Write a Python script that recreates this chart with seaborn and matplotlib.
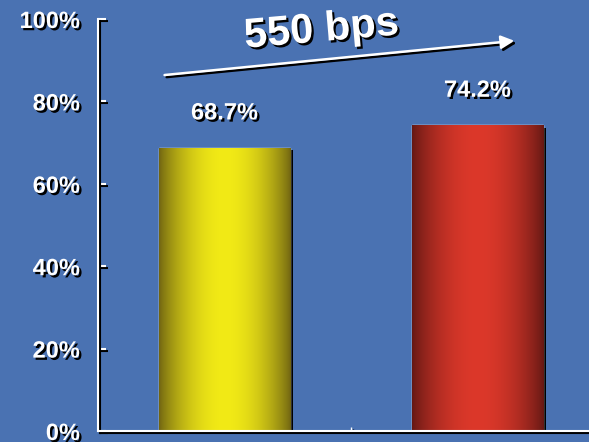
import numpy as np
import pandas as pd
import matplotlib
matplotlib.use("Agg")
import matplotlib.pyplot as plt
import matplotlib.patheffects as pe
import seaborn as sns

# data
categories = ["Before", "After"]
shares = [68.7, 74.2]
value_labels = ["68.7%", "74.2%"]
y_ticks = [0, 20, 40, 60, 80, 100]
y_tick_labels = ["0%", "20%", "40%", "60%", "80%", "100%"]
gain_label = "550 bps"

# colours
bg = "#4A72B2"
bar_dark = [(112, 100, 18), (100, 24, 20)]
bar_bright = [(242, 234, 22), (220, 56, 42)]

sns.set_theme(style="ticks")
plt.rcParams["font.family"] = ["Liberation Sans", "DejaVu Sans"]
plt.rcParams["font.weight"] = "bold"

shadow_txt = [pe.SimplePatchShadow(offset=(1.6, -1.6), shadow_rgbFace="black", alpha=1), pe.Normal()]
shadow_line = [pe.SimpleLineShadow(offset=(1.5, -1.5), shadow_color="black", alpha=1), pe.Normal()]

fig = plt.figure(figsize=(5.89, 4.42), dpi=100, facecolor=bg)
ax = fig.add_axes([98 / 589, 11 / 442, 506 / 589, 412 / 442])
ax.set_facecolor(bg)

df = pd.DataFrame({"cat": categories, "share": shares})
sns.barplot(data=df, x="cat", y="share", hue="cat", legend=False, width=0.52,
            palette=["#f0e614", "#d83828"], saturation=1, ax=ax, zorder=2)

# gradient fill for each bar, clipped to the bar
t = np.linspace(0, 1, 200)
f = np.sin(np.pi * t) ** 0.8
for i, patch in enumerate(ax.patches):
    patch.set_path_effects([pe.SimplePatchShadow(offset=(2.2, -1.6), shadow_rgbFace="black", alpha=1), pe.Normal()])
    dark = np.array(bar_dark[i]) / 255
    bright = np.array(bar_bright[i]) / 255
    grad = dark[None, :] + (bright - dark)[None, :] * f[:, None]
    x0, y0 = patch.get_x(), patch.get_y()
    w, h = patch.get_width(), patch.get_height()
    im = ax.imshow(grad[None, :, :], extent=[x0, x0 + w, y0, y0 + h], aspect="auto",
                   origin="lower", zorder=2.5, interpolation="bilinear")
    im.set_clip_path(patch)
    ax.text(x0 + w / 2, h + 8.5, value_labels[i], ha="center", va="center",
            color="white", fontsize=17, fontweight="bold", path_effects=shadow_txt, zorder=4)

ax.set_xlim(-0.5, 1.5)
ax.set_ylim(0, 100)
ax.set_xlabel("")
ax.set_ylabel("")
ax.set_xticks([])
ax.set_xticks([0.5], minor=True)
ax.set_yticks(y_ticks)
ax.set_yticklabels(y_tick_labels)
ax.tick_params(axis="y", direction="in", length=6, width=1.5, color="white",
               labelcolor="white", labelsize=17, pad=13)
ax.tick_params(axis="x", which="minor", direction="in", length=3, width=1, color="white")
for lab in ax.get_yticklabels():
    lab.set_fontweight("bold")
    lab.set_path_effects(shadow_txt)
for tl in ax.yaxis.get_ticklines() + ax.xaxis.get_ticklines(minor=True):
    tl.set_path_effects(shadow_line)

sns.despine(ax=ax)
for side in ["left", "bottom"]:
    ax.spines[side].set_color("white")
    ax.spines[side].set_linewidth(1.5)
    ax.spines[side].set_path_effects(shadow_line)
    ax.spines[side].set_zorder(3)

# arrow with gain label
ax.annotate("", xy=(1.146, 94.7), xytext=(-0.237, 86.4),
            arrowprops=dict(arrowstyle="-|>", color="white", lw=1.8, mutation_scale=20,
                            shrinkA=0, shrinkB=0,
                            path_effects=[pe.SimpleLineShadow(offset=(1.5, -1.5), shadow_color="black", alpha=1),
                                          pe.SimplePatchShadow(offset=(1.5, -1.5), shadow_rgbFace="black", alpha=1),
                                          pe.Normal()]),
            annotation_clip=False, zorder=5)
ax.text(0.383, 97.3, gain_label, ha="center", va="center", rotation=5, color="white",
        fontsize=30, fontweight="bold", path_effects=shadow_txt, zorder=5, clip_on=False)

fig.savefig("out.png", dpi=100, facecolor=bg)
